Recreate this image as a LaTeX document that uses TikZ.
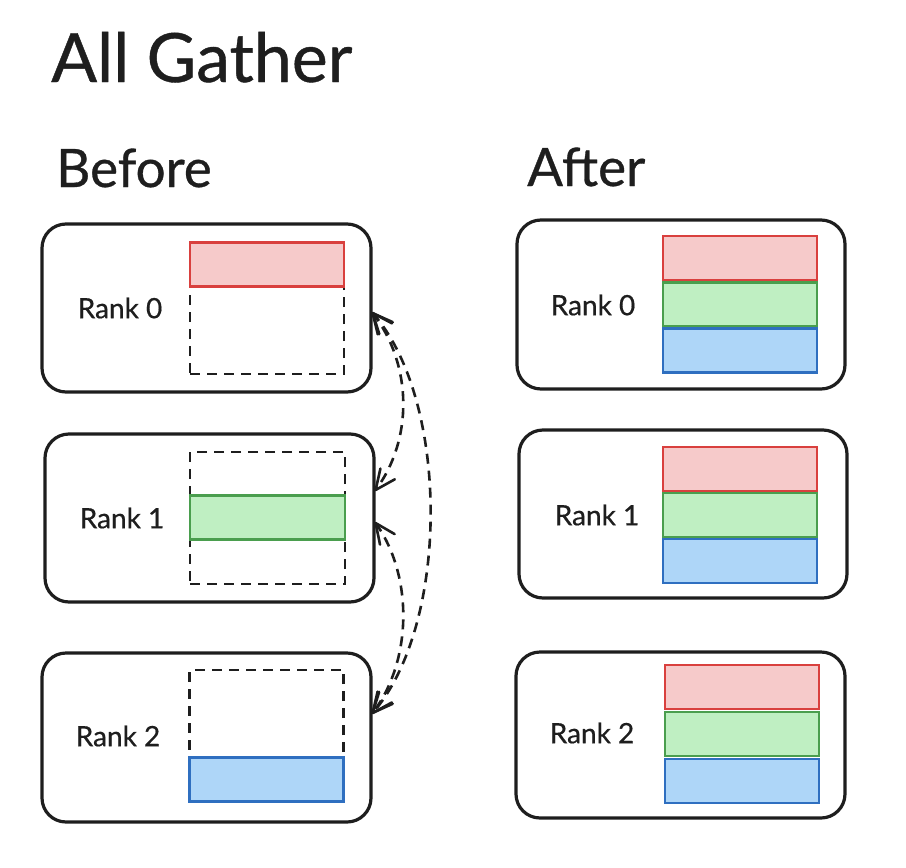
\documentclass[tikz,border=0pt]{standalone}
\usepackage{fontspec}
\setmainfont{Lato}[FakeBold=0.6]
\usetikzlibrary{decorations.markings}
\definecolor{redS}{HTML}{D9403E}
\definecolor{redF}{HTML}{F6CACA}
\definecolor{grnS}{HTML}{4A9E4E}
\definecolor{grnF}{HTML}{BFEFC2}
\definecolor{bluS}{HTML}{2F6FC0}
\definecolor{bluF}{HTML}{AED6F8}
\definecolor{ink}{HTML}{1E1E1E}
\tikzset{
  rankbox/.style={draw=ink, line width=3.2pt, rounded corners=24pt, minimum width=329pt, minimum height=168pt, inner sep=0pt},
  slotbox/.style={draw=ink, line width=2.8pt, dash pattern=on 10pt off 7pt, minimum width=154pt, minimum height=132pt, inner sep=0pt},
  redblk/.style={draw=redS, fill=redF, line width=2.8pt, minimum width=154pt, minimum height=44pt, inner sep=0pt},
  grnblk/.style={draw=grnS, fill=grnF, line width=2.8pt, minimum width=154pt, minimum height=44pt, inner sep=0pt},
  blublk/.style={draw=bluS, fill=bluF, line width=2.8pt, minimum width=154pt, minimum height=44pt, inner sep=0pt},
  ranklbl/.style={font=\fontsize{28pt}{32pt}\selectfont, text=ink},
  hdr/.style={font=\fontsize{53pt}{60pt}\selectfont, text=ink, anchor=base west, inner sep=0pt},
  xfer/.style={draw=ink, line width=2.6pt, dash pattern=on 10pt off 7pt,
    postaction={decorate},
    decoration={markings,
      mark=at position 0.0005 with {\draw[solid, line width=2.6pt, line cap=round, line join=round] (20pt,9pt) -- (0,0) -- (20pt,-9pt);},
      mark=at position 0.9995 with {\draw[solid, line width=2.6pt, line cap=round, line join=round] (-20pt,9pt) -- (0,0) -- (-20pt,-9pt);}}}
}
\begin{document}
\begin{tikzpicture}[x=1pt,y=-1pt]
\useasboundingbox (0,0) rectangle (906,868);
\node[font=\fontsize{68pt}{78pt}\selectfont, text=ink, anchor=base west, inner sep=0pt] (title) at (51,82) {All Gather};
\node[hdr] (before) at (56,187) {Before};
\node[hdr] (after) at (527,186) {After};

% Before boxes
\node[rankbox] (b0) at (206.5,308) {};
\node[rankbox] (b1) at (209.5,518) {};
\node[rankbox, minimum height=169pt] (b2) at (206.5,737.5) {};
\node[slotbox] (s0) at (267,308) {};
\node[slotbox, minimum width=155pt] (s1) at (267.5,518) {};
\node[slotbox] (s2) at (266.5,736) {};
\node[redblk] (br0) at (267,264.5) {};
\node[grnblk, minimum width=155pt] (bg1) at (267.5,517.5) {};
\node[blublk] (bb2) at (266.5,779.5) {};
\node[ranklbl] (lb0) at (120,308) {Rank 0};
\node[ranklbl] (lb1) at (122,518) {Rank 1};
\node[ranklbl] (lb2) at (118,736) {Rank 2};

% After boxes
\node[rankbox, minimum width=328pt, minimum height=169pt] (a0) at (681,304.5) {};
\node[rankbox, minimum width=328pt] (a1) at (683,514) {};
\node[rankbox, minimum width=329pt, minimum height=166pt] (a2) at (680.5,735) {};
\node[redblk] (ar0) at (740,258) {};
\node[grnblk] (ag0) at (740,304.5) {};
\node[blublk] (ab0) at (740,350.5) {};
\node[redblk] (ar1) at (740,469) {};
\node[grnblk] (ag1) at (740,515) {};
\node[blublk] (ab1) at (740,561) {};
\node[redblk] (ar2) at (742,687) {};
\node[grnblk] (ag2) at (742,734) {};
\node[blublk] (ab2) at (742,781) {};
\node[ranklbl] (la0) at (593,305) {Rank 0};
\node[ranklbl] (la1) at (597,515) {Rank 1};
\node[ranklbl] (la2) at (592,733) {Rank 2};

% connector ends on the right edges of the Before boxes
\coordinate (p0) at (b0.east |- 0,313);
\coordinate (p1a) at (b1.east |- 0,490);
\coordinate (p1b) at (b1.east |- 0,523);
\coordinate (p2) at (b2.east |- 0,713);

\draw[xfer] (p0) .. controls (413,365) and (413,440) .. (p1a);
\draw[xfer] (p1b) .. controls (413,575) and (413,660) .. (p2);
\draw[xfer] (p0) .. controls (450,400) and (450,625) .. (p2);
\end{tikzpicture}
\end{document}
